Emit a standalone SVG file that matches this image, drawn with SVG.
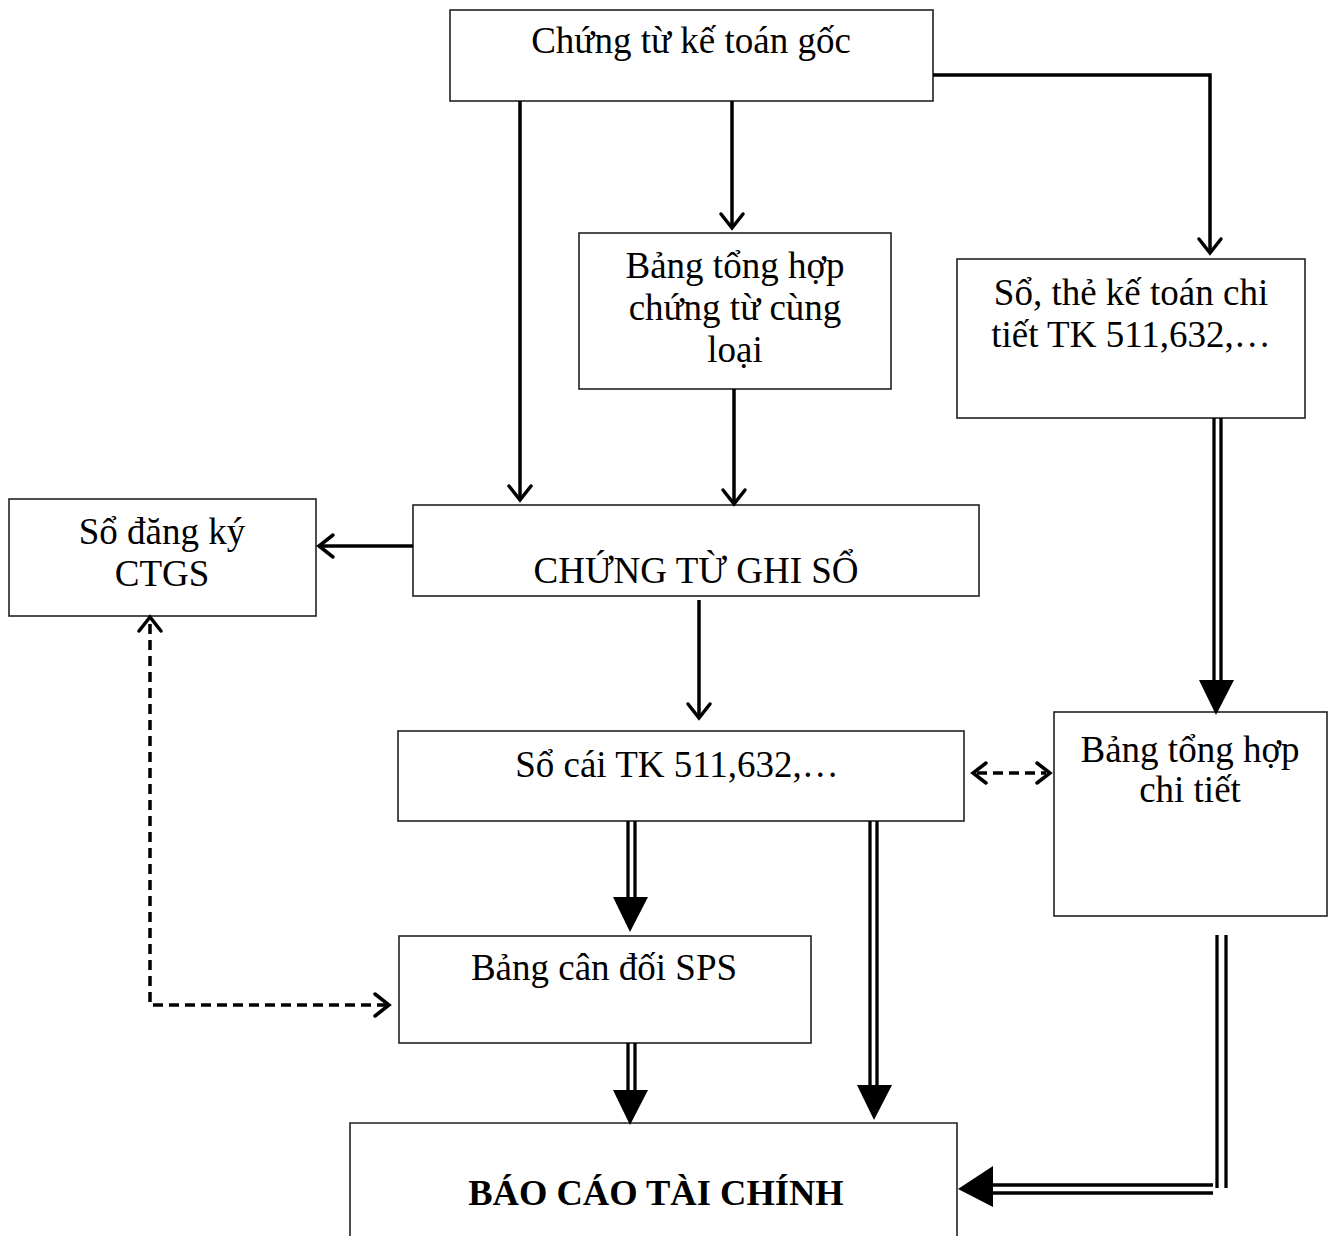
<svg xmlns="http://www.w3.org/2000/svg" width="1332" height="1236" viewBox="0 0 1332 1236">
  <style>
    .box { fill: #fff; stroke: #222; stroke-width: 1.6; }
    .lbl { font-family: "Liberation Serif", "Times New Roman", serif; font-size: 37px; fill: #000; text-anchor: middle; }
    .bold { font-weight: bold; font-size: 36.5px; }
    .ln { fill: none; stroke: #000; stroke-width: 3.5; }
    .dash { fill: none; stroke: #000; stroke-width: 3.5; stroke-dasharray: 10 6; }
    .dbl { stroke: #000; stroke-width: 3.3; }
    .head { fill: #000; }
    .open { fill: none; stroke: #000; stroke-width: 3.5; stroke-linecap: round; stroke-linejoin: miter; }
  </style>
  <rect width="1332" height="1236" fill="#fff"/>

  <g id="node-chung-tu-goc">
    <rect class="box" x="450" y="10" width="483" height="91"/>
    <text class="lbl" x="691" y="53">Chứng từ kế toán gốc</text>
  </g>
  <g id="node-bang-tong-hop-ct">
    <rect class="box" x="579" y="233" width="312" height="156"/>
    <text class="lbl" x="735" y="278">Bảng tổng hợp</text>
    <text class="lbl" x="735" y="320">chứng từ cùng</text>
    <text class="lbl" x="735" y="362">loại</text>
  </g>
  <g id="node-so-the-chi-tiet">
    <rect class="box" x="957" y="259" width="348" height="159"/>
    <text class="lbl" x="1131" y="305">Sổ, thẻ kế toán chi</text>
    <text class="lbl" x="1131" y="347">tiết TK 511,632,…</text>
  </g>
  <g id="node-so-dang-ky">
    <rect class="box" x="9" y="499" width="307" height="117"/>
    <text class="lbl" x="162" y="544">Sổ đăng ký</text>
    <text class="lbl" x="162" y="586">CTGS</text>
  </g>
  <g id="node-ctgs">
    <rect class="box" x="413" y="505" width="566" height="91"/>
    <text class="lbl" x="696" y="583">CHỨNG TỪ GHI SỔ</text>
  </g>
  <g id="node-so-cai">
    <rect class="box" x="398" y="731" width="566" height="90"/>
    <text class="lbl" x="677" y="777">Sổ cái TK 511,632,…</text>
  </g>
  <g id="node-bang-tong-hop-chi-tiet">
    <rect class="box" x="1054" y="712" width="273" height="204"/>
    <text class="lbl" x="1190" y="762">Bảng tổng hợp</text>
    <text class="lbl" x="1190" y="802">chi tiết</text>
  </g>
  <g id="node-can-doi-sps">
    <rect class="box" x="399" y="936" width="412" height="107"/>
    <text class="lbl" x="604" y="980">Bảng cân đối SPS</text>
  </g>
  <g id="node-bao-cao">
    <path class="box" d="M350 1240 V1123 H957 V1240"/>
    <text class="lbl bold" x="656" y="1205">BÁO CÁO TÀI CHÍNH</text>
  </g>

  <g id="connectors">
    <!-- single solid arrows with open heads -->
    <line class="ln" x1="520" y1="101" x2="520" y2="499"/>
    <path class="open" d="M509 486 L520 500 L531 486"/>
    <line class="ln" x1="732" y1="101" x2="732" y2="227"/>
    <path class="open" d="M721 214 L732 228 L743 214"/>
    <polyline class="ln" points="933,75 1210,75 1210,252"/>
    <path class="open" d="M1199 239 L1210 253 L1221 239"/>
    <line class="ln" x1="734" y1="389" x2="734" y2="503"/>
    <path class="open" d="M723 490 L734 504 L745 490"/>
    <line class="ln" x1="413" y1="546" x2="320" y2="546"/>
    <path class="open" d="M333 535 L319 546 L333 557"/>
    <line class="ln" x1="699" y1="600" x2="699" y2="717"/>
    <path class="open" d="M688 704 L699 718 L710 704"/>

    <!-- dashed two-way links -->
    <polyline class="dash" points="150,624 150,1005 386,1005"/>
    <path class="open" d="M139 631 L150 617 L161 631"/>
    <path class="open" d="M375 994 L389 1005 L375 1016"/>
    <line class="dash" x1="977" y1="773" x2="1046" y2="773"/>
    <path class="open" d="M986 763 L973 773 L986 783"/>
    <path class="open" d="M1037 763 L1050 773 L1037 783"/>

    <!-- double-line arrows with filled heads -->
    <g>
      <line class="dbl" x1="1214" y1="418" x2="1214" y2="682"/>
      <line class="dbl" x1="1221" y1="418" x2="1221" y2="682"/>
      <polygon class="head" points="1199,680 1234,680 1216,715"/>
    </g>
    <g>
      <line class="dbl" x1="628" y1="821" x2="628" y2="899"/>
      <line class="dbl" x1="635" y1="821" x2="635" y2="899"/>
      <polygon class="head" points="613,897 648,897 630,932"/>
    </g>
    <g>
      <line class="dbl" x1="628" y1="1043" x2="628" y2="1092"/>
      <line class="dbl" x1="635" y1="1043" x2="635" y2="1092"/>
      <polygon class="head" points="613,1090 648,1090 630,1125"/>
    </g>
    <g>
      <line class="dbl" x1="870" y1="821" x2="870" y2="1087"/>
      <line class="dbl" x1="877" y1="821" x2="877" y2="1087"/>
      <polygon class="head" points="857,1085 892,1085 874,1120"/>
    </g>
    <g>
      <line class="dbl" x1="1217" y1="935" x2="1217" y2="1188"/>
      <line class="dbl" x1="1226" y1="935" x2="1226" y2="1188"/>
      <line class="dbl" x1="991" y1="1185" x2="1213" y2="1185"/>
      <line class="dbl" x1="991" y1="1193" x2="1213" y2="1193"/>
      <polygon class="head" points="993,1166 993,1207 958,1189"/>
    </g>
  </g>
</svg>
